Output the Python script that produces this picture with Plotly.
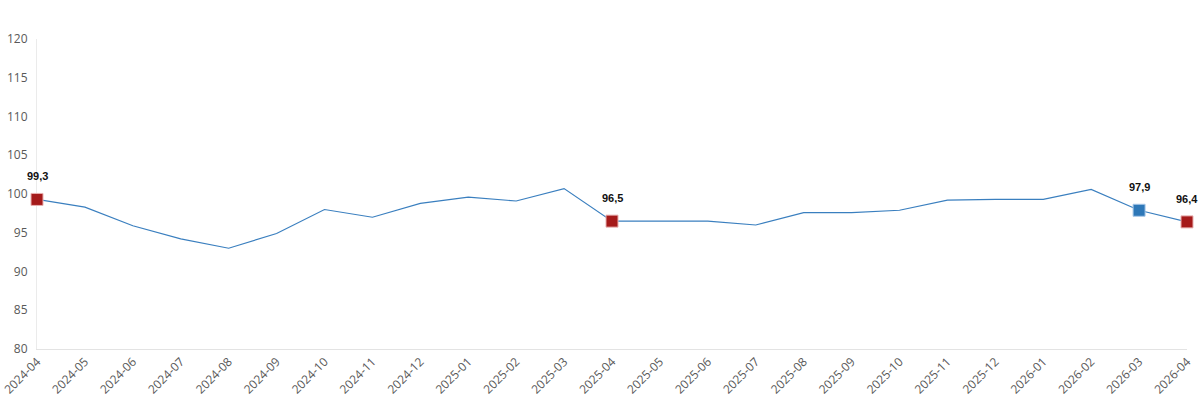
import plotly.graph_objects as go

months = ["2024-04", "2024-05", "2024-06", "2024-07", "2024-08", "2024-09", "2024-10",
          "2024-11", "2024-12", "2025-01", "2025-02", "2025-03", "2025-04", "2025-05",
          "2025-06", "2025-07", "2025-08", "2025-09", "2025-10", "2025-11", "2025-12",
          "2026-01", "2026-02", "2026-03", "2026-04"]
values = [99.3, 98.3, 95.9, 94.2, 93.0, 94.9, 98.0, 97.0, 98.8, 99.6, 99.1, 100.7,
          96.5, 96.5, 96.5, 96.0, 97.6, 97.6, 97.9, 99.2, 99.3, 99.3, 100.6, 97.9, 96.4]

red_months = ["2024-04", "2025-04", "2026-04"]
blue_months = ["2026-03"]

LINE = "#3A7FBF"
RED = "#A51A1A"
BLUE = "#2E78B8"

vmap = dict(zip(months, values))
label_months = red_months + blue_months

fig = go.Figure()
fig.add_trace(go.Scatter(x=months, y=values, mode="lines",
                         line=dict(color=LINE, width=1.2), hoverinfo="x+y",
                         cliponaxis=False))
fig.add_trace(go.Scatter(x=red_months, y=[vmap[m] for m in red_months], mode="markers",
                         marker=dict(symbol="square", size=12, color=RED,
                                     line=dict(color="#E8B0B0", width=1)),
                         cliponaxis=False))
fig.add_trace(go.Scatter(x=blue_months, y=[vmap[m] for m in blue_months], mode="markers",
                         marker=dict(symbol="square", size=12, color=BLUE,
                                     line=dict(color="#A8C8E8", width=1)),
                         cliponaxis=False))

for m in label_months:
    fig.add_annotation(x=m, y=vmap[m], text=f"<b>{vmap[m]:.1f}</b>".replace(".", ","),
                       showarrow=False, yshift=23,
                       font=dict(family="Liberation Sans, Arial", size=11, color="#111111"))

fig.update_layout(
    width=1200, height=403,
    margin=dict(l=37, r=13, t=39, b=54),
    paper_bgcolor="white", plot_bgcolor="white",
    showlegend=False,
    font=dict(family="Open Sans, Liberation Sans", color="#595959"),
)
fig.update_xaxes(type="category", range=[0, len(months) - 1], tickangle=-45,
                 automargin=False, layer="below traces",
                 showgrid=False, zeroline=False, showline=True, linecolor="#E3E3E3",
                 linewidth=1, ticks="", tickfont=dict(size=12, color="#595959"))
fig.update_yaxes(range=[80, 120], dtick=5, showgrid=False, zeroline=False,
                 automargin=False, layer="below traces",
                 showline=True, linecolor="#EBEBEB", linewidth=1, ticks="",
                 ticklabelstandoff=6,
                 tickfont=dict(size=12, color="#595959"))

fig.write_html("out.html",
               config={"displayModeBar": False},
               post_script="document.body.style.margin='0px';"
                           "document.documentElement.style.overflow='hidden';")
